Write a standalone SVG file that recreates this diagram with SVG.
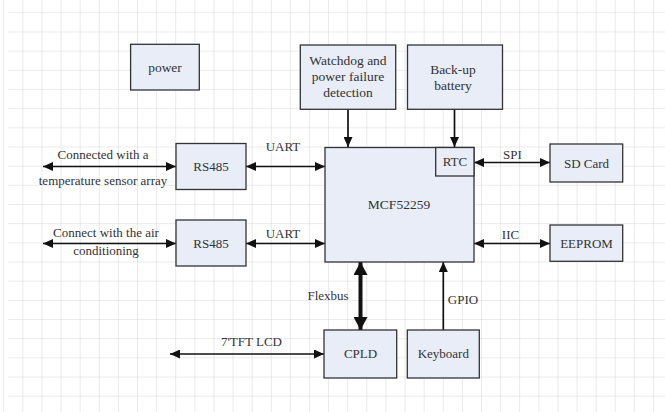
<svg xmlns="http://www.w3.org/2000/svg" width="665" height="412" viewBox="0 0 665 412">
<style>
.box{fill:#e8edf7;stroke:#333;stroke-width:1.3}
.t{font-family:"Liberation Serif","Times New Roman",serif;font-size:13px;fill:#333;text-anchor:middle}
.ln{stroke:#111;stroke-width:1.7;fill:none}
.thick{stroke:#111;stroke-width:4;fill:none}
</style>
<defs>
<pattern id="gv" x="4.2" y="0" width="19.11" height="412" patternUnits="userSpaceOnUse">
<rect x="18.6" y="0" width="1" height="412" fill="#d6d6d6"/>
</pattern>
<pattern id="gh" x="0" y="-5.9" width="665" height="19.17" patternUnits="userSpaceOnUse">
<rect x="0" y="18.7" width="665" height="1" fill="#d6d6d6"/>
</pattern>
<marker id="ah" viewBox="0 0 10 9" refX="10" refY="4.5" markerWidth="10" markerHeight="9" markerUnits="userSpaceOnUse" orient="auto-start-reverse">
<path d="M0,0 L10,4.5 L0,9 z" fill="#111"/>
</marker>
<marker id="ahb" viewBox="0 0 13 14" refX="13" refY="7" markerWidth="13" markerHeight="14" markerUnits="userSpaceOnUse" orient="auto-start-reverse">
<path d="M0,0 L13,7 L0,14 z" fill="#111"/>
</marker>
</defs>
<rect width="665" height="412" fill="#fff"/>
<rect x="0" y="0" width="665" height="412" fill="url(#gv)"/>
<rect x="8" y="0" width="657" height="412" fill="url(#gh)"/>

<g id="connectors">
<line class="ln" x1="43" y1="166.5" x2="176" y2="166.5" marker-start="url(#ah)" marker-end="url(#ah)"/>
<line class="ln" x1="246" y1="166.5" x2="325" y2="166.5" marker-start="url(#ah)" marker-end="url(#ah)"/>
<line class="ln" x1="43" y1="243.5" x2="176" y2="243.5" marker-start="url(#ah)" marker-end="url(#ah)"/>
<line class="ln" x1="246" y1="243.5" x2="325" y2="243.5" marker-start="url(#ah)" marker-end="url(#ah)"/>
<line class="ln" x1="348" y1="109" x2="348" y2="147" marker-end="url(#ah)"/>
<line class="ln" x1="454.5" y1="109" x2="454.5" y2="147" marker-end="url(#ah)"/>
<line class="ln" x1="474" y1="162.5" x2="550" y2="162.5" marker-start="url(#ah)" marker-end="url(#ah)"/>
<line class="ln" x1="474" y1="243.5" x2="550" y2="243.5" marker-start="url(#ah)" marker-end="url(#ah)"/>
<line class="thick" x1="360.5" y1="262" x2="360.5" y2="330" marker-start="url(#ahb)" marker-end="url(#ahb)"/>
<line class="ln" x1="443.3" y1="330" x2="443.3" y2="262" marker-end="url(#ah)"/>
<line class="ln" x1="170" y1="354" x2="324" y2="354" marker-start="url(#ah)" marker-end="url(#ah)"/>
<text class="t" x="103" y="159">Connected with a</text>
<text class="t" x="103" y="185">temperature sensor array</text>
<text class="t" x="106" y="237">Connect with the air</text>
<text class="t" x="106" y="255">conditioning</text>
<text class="t" x="283" y="151">UART</text>
<text class="t" x="283" y="238">UART</text>
<text class="t" x="512.5" y="159">SPI</text>
<text class="t" x="510.5" y="239">IIC</text>
<text class="t" x="328" y="300">Flexbus</text>
<text class="t" x="463" y="304">GPIO</text>
<text class="t" x="251.5" y="346">7'TFT LCD</text>
</g>

<g id="power"><rect class="box" x="130.6" y="44.3" width="68.7" height="45.7"/><text class="t" x="165" y="71.5" style="font-size:13.5px">power</text></g>
<g id="watchdog"><rect class="box" x="300.3" y="45" width="95.4" height="64.3"/>
<text class="t" x="348" y="65" style="font-size:13.5px">Watchdog and</text><text class="t" x="348" y="81" style="font-size:13.5px">power failure</text><text class="t" x="348" y="97" style="font-size:13.5px">detection</text></g>
<g id="backup"><rect class="box" x="407.5" y="45" width="95" height="64.3"/>
<text class="t" x="453" y="74" style="font-size:13.5px">Back-up</text><text class="t" x="453" y="89.5" style="font-size:13.5px">battery</text></g>
<g id="rs485a"><rect class="box" x="176" y="143.5" width="70" height="46"/><text class="t" x="211" y="171">RS485</text></g>
<g id="rs485b"><rect class="box" x="176" y="220" width="70" height="46"/><text class="t" x="211" y="248">RS485</text></g>
<g id="mcf"><rect class="box" x="325" y="147.5" width="149" height="114.5"/><text class="t" x="399" y="209" style="font-size:13.5px">MCF52259</text></g>
<g id="rtc"><rect class="box" x="435.7" y="147.5" width="38.3" height="28.5"/><text class="t" x="455" y="166">RTC</text></g>
<g id="sdcard"><rect class="box" x="550" y="144" width="72.7" height="38"/><text class="t" x="586.5" y="167.5">SD Card</text></g>
<g id="eeprom"><rect class="box" x="550" y="225" width="72.7" height="36.3"/><text class="t" x="586.5" y="247.5">EEPROM</text></g>
<g id="cpld"><rect class="box" x="324" y="330" width="72.7" height="48"/><text class="t" x="360.5" y="358">CPLD</text></g>
<g id="keyboard"><rect class="box" x="407.3" y="330" width="72" height="48"/><text class="t" x="443.3" y="358">Keyboard</text></g>
</svg>
